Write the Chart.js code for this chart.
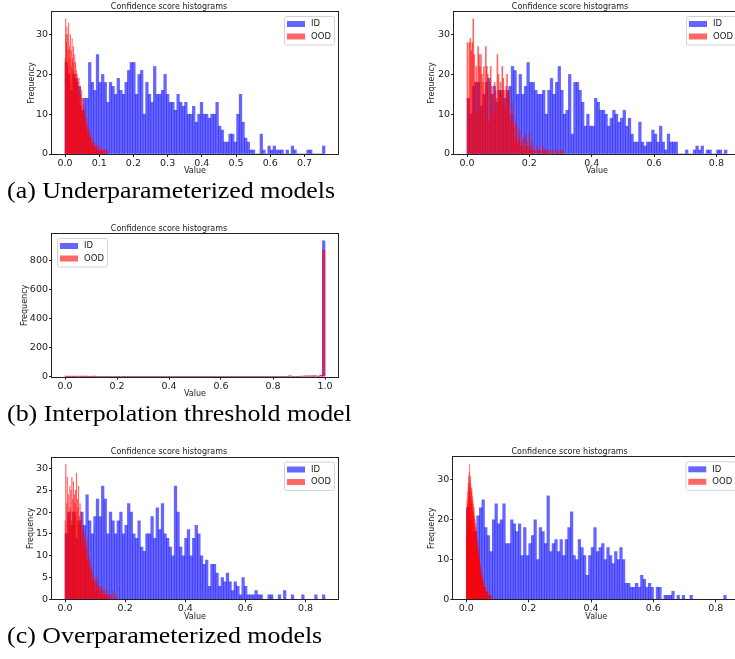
<!DOCTYPE html>
<html>
<head>
<meta charset="utf-8">
<script src="https://cdn.jsdelivr.net/npm/chart.js@4"></script>
<style>
  body { margin: 0; width: 735px; height: 659px; overflow: hidden; background: #fff; position: relative; }
  canvas { position: absolute; }
  .cap { position: absolute; left: 7px; font-family: "Liberation Serif", "Times New Roman", serif; font-size: 24px; line-height: 24px; white-space: nowrap; color: #000; transform: scaleX(1.08); transform-origin: left top; }
</style>
</head>
<body>
<canvas id="c1" width="345" height="180" style="left:0;top:0"></canvas>
<canvas id="c2" width="345" height="180" style="left:400px;top:0"></canvas>
<div class="cap" style="top:178px">(a) Underparameterized models</div>
<canvas id="c3" width="345" height="180" style="left:0;top:222px"></canvas>
<div class="cap" style="top:401px">(b) Interpolation threshold model</div>
<canvas id="c4" width="345" height="180" style="left:0;top:445px"></canvas>
<canvas id="c5" width="345" height="180" style="left:400px;top:445px"></canvas>
<div class="cap" style="top:623px">(c) Overparameterized models</div>
<script>
// ---- data (100 bins each) ----

// (a) left
const p1IdRange = [0, 0.76];
const p1IdCounts = [
  23, 20, 16, 20, 19, 17, 11, 14, 14, 23,
  18, 16, 25, 18, 20, 18, 13, 18, 17, 15,
  19, 16, 15, 18, 21, 23, 23, 15, 20, 21,
  10, 18, 15, 13, 22, 15, 15, 16, 20, 15,
  13, 13, 11, 15, 13, 12, 13, 10, 10, 12,
  8, 10, 13, 10, 10, 9, 10, 10, 13, 7,
  6, 3, 3, 5, 5, 3, 10, 15, 8, 4,
  3, 1, 1, 0, 0, 5, 1, 0, 2, 1,
  2, 1, 1, 1, 0, 1, 0, 2, 1, 0,
  0, 0, 0, 1, 1, 0, 0, 0, 0, 2
];
const p1OodRange = [0, 0.126];
const p1OodCounts = [
  24, 34, 30, 28, 32, 22, 30, 26, 33, 20,
  27, 24, 30, 18, 26, 22, 29, 24, 21, 27,
  23, 19, 25, 20, 23, 17, 21, 18, 20, 15,
  18, 14, 19, 16, 13, 17, 15, 12, 16, 14,
  11, 14, 10, 12, 9, 11, 10, 7, 8, 6,
  9, 5, 7, 6, 4, 5, 6, 3, 4, 5,
  3, 2, 4, 3, 2, 3, 1, 3, 2, 2,
  1, 2, 3, 1, 2, 1, 1, 2, 0, 1,
  1, 0, 1, 2, 1, 0, 1, 0, 1, 1,
  0, 1, 0, 0, 1, 0, 1, 0, 0, 1
];
const p1XTicks = [0, 0.1, 0.2, 0.3, 0.4, 0.5, 0.6, 0.7];
const p1XLabels = ['0.0', '0.1', '0.2', '0.3', '0.4', '0.5', '0.6', '0.7'];
const p1YTicks = [0, 10, 20, 30];

// (a) right
const p2IdRange = [0, 0.834];
const p2IdCounts = [
  14, 10, 17, 18, 18, 12, 15, 18, 19, 15,
  17, 13, 16, 16, 14, 16, 17, 22, 21, 15,
  20, 15, 17, 23, 18, 18, 16, 15, 15, 16,
  10, 16, 19, 15, 18, 22, 16, 10, 11, 20,
  5, 18, 18, 16, 13, 7, 10, 7, 7, 14,
  13, 11, 11, 10, 7, 9, 11, 10, 8, 9,
  11, 7, 9, 5, 3, 3, 8, 3, 2, 3,
  3, 6, 5, 3, 7, 3, 1, 5, 3, 3,
  3, 0, 0, 0, 1, 0, 0, 1, 2, 1,
  2, 0, 1, 1, 0, 0, 1, 1, 0, 1
];
const p2OodRange = [0, 0.31];
const p2OodCounts = [
  28, 14, 28, 29, 26, 28, 34, 25, 18, 22,
  10, 27, 25, 22, 25, 20, 18, 22, 15, 27,
  22, 20, 8, 18, 22, 17, 15, 10, 18, 16,
  14, 25, 20, 16, 18, 15, 22, 19, 16, 12,
  17, 20, 15, 16, 10, 8, 13, 10, 7, 4,
  8, 7, 3, 4, 6, 2, 3, 2, 4, 1,
  5, 3, 2, 1, 5, 2, 1, 3, 1, 0,
  1, 0, 2, 1, 1, 0, 1, 0, 2, 1,
  1, 0, 1, 0, 1, 0, 1, 0, 0, 1,
  0, 0, 1, 0, 1, 0, 0, 1, 0, 1
];
const p2XTicks = [0, 0.2, 0.4, 0.6, 0.8];
const p2XLabels = ['0.0', '0.2', '0.4', '0.6', '0.8'];
const p2YTicks = [0, 10, 20, 30];

// (b)
const p3IdRange = [0, 1];
const p3IdCounts = [
  0, 0, 0, 0, 0, 0, 0, 0, 0, 0,
  0, 0, 0, 0, 0, 0, 0, 0, 0, 0,
  0, 0, 0, 0, 0, 0, 0, 0, 0, 0,
  0, 0, 0, 0, 0, 0, 0, 0, 0, 0,
  0, 0, 0, 0, 0, 0, 0, 0, 0, 0,
  0, 0, 0, 0, 0, 0, 0, 0, 0, 0,
  0, 0, 0, 0, 0, 0, 0, 0, 0, 0,
  0, 0, 0, 0, 0, 0, 0, 0, 0, 0,
  0, 0, 0, 0, 0, 0, 0, 0, 0, 0,
  0, 0, 6, 4, 0, 0, 3, 0, 8, 939
];
const p3OodRange = [0, 1];
const p3OodCounts = [
  2, 1, 2, 1, 1, 2, 1, 1, 1, 0,
  1, 1, 0, 0, 0, 0, 0, 0, 0, 0,
  0, 0, 0, 0, 0, 0, 0, 0, 0, 0,
  0, 0, 0, 0, 0, 0, 0, 0, 0, 0,
  0, 0, 0, 0, 0, 0, 0, 0, 0, 0,
  0, 0, 0, 0, 0, 0, 0, 0, 0, 0,
  0, 0, 0, 0, 0, 0, 0, 0, 0, 0,
  0, 0, 0, 0, 0, 0, 0, 0, 0, 0,
  0, 0, 0, 0, 0, 0, 7, 0, 0, 0,
  5, 3, 0, 2, 7, 8, 6, 3, 12, 875
];
const p3XTicks = [0, 0.2, 0.4, 0.6, 0.8, 1.0];
const p3XLabels = ['0.0', '0.2', '0.4', '0.6', '0.8', '1.0'];
const p3YTicks = [0, 200, 400, 600, 800];

// (c) left
const p4IdRange = [0, 0.865];
const p4IdCounts = [
  15, 20, 17, 20, 14, 18, 20, 17, 24, 18,
  15, 19, 23, 19, 26, 23, 15, 20, 18, 15,
  18, 20, 15, 17, 22, 20, 15, 14, 18, 12,
  11, 15, 15, 19, 14, 21, 16, 22, 15, 14,
  12, 10, 26, 20, 12, 10, 14, 16, 10, 14,
  17, 15, 10, 8, 9, 3, 8, 8, 6, 3,
  5, 4, 6, 4, 2, 4, 3, 1, 5, 3,
  1, 1, 1, 2, 1, 1, 0, 0, 1, 1,
  0, 0, 1, 0, 2, 0, 0, 1, 0, 0,
  0, 1, 0, 0, 0, 0, 1, 0, 0, 1
];
const p4OodRange = [0, 0.17];
const p4OodCounts = [
  18, 31, 15, 22, 28, 19, 24, 16, 20, 26,
  21, 25, 18, 28, 20, 23, 27, 19, 24, 22,
  25, 20, 29, 18, 23, 21, 26, 17, 19, 22,
  18, 15, 20, 14, 17, 13, 16, 12, 15, 11,
  13, 10, 12, 9, 14, 8, 10, 7, 9, 6,
  8, 5, 7, 4, 6, 5, 3, 4, 5, 2,
  4, 3, 2, 5, 3, 2, 3, 1, 2, 3,
  1, 2, 3, 1, 2, 1, 0, 2, 1, 1,
  0, 1, 2, 0, 1, 1, 0, 1, 0, 0,
  1, 0, 0, 2, 0, 0, 1, 0, 0, 1
];
const p4XTicks = [0, 0.2, 0.4, 0.6, 0.8];
const p4XLabels = ['0.0', '0.2', '0.4', '0.6', '0.8'];
const p4YTicks = [0, 5, 10, 15, 20, 25, 30];

// (c) right
const p5IdRange = [0, 0.834];
const p5IdCounts = [
  23, 20, 17, 17, 21, 23, 25, 18, 16, 12,
  20, 24, 19, 20, 24, 14, 14, 20, 19, 17,
  19, 11, 18, 11, 14, 16, 20, 10, 18, 17,
  14, 26, 12, 14, 15, 12, 15, 11, 15, 18,
  22, 11, 10, 15, 13, 11, 6, 11, 13, 18,
  12, 13, 14, 10, 13, 11, 9, 12, 10, 13,
  10, 4, 4, 3, 3, 4, 3, 6, 5, 3,
  4, 3, 0, 3, 3, 0, 1, 1, 1, 2,
  0, 1, 0, 1, 0, 0, 1, 0, 0, 0,
  0, 0, 0, 0, 0, 0, 0, 0, 0, 1
];
const p5OodRange = [0, 0.08];
const p5OodCounts = [
  16, 22, 25, 19, 24, 27, 23, 29, 26, 31,
  28, 32, 27, 34, 30, 26, 29, 31, 25, 28,
  27, 24, 28, 22, 26, 23, 25, 21, 24, 22,
  20, 23, 19, 21, 18, 20, 17, 19, 16, 18,
  17, 14, 16, 13, 15, 12, 14, 13, 11, 12,
  10, 11, 9, 10, 8, 9, 7, 8, 6, 7,
  7, 5, 6, 5, 4, 6, 4, 5, 3, 4,
  3, 4, 2, 3, 3, 2, 3, 2, 1, 2,
  2, 1, 2, 1, 2, 1, 1, 2, 0, 1,
  1, 0, 1, 1, 0, 1, 0, 1, 0, 1
];
const p5XTicks = [0, 0.2, 0.4, 0.6, 0.8];
const p5XLabels = ['0.0', '0.2', '0.4', '0.6', '0.8'];
const p5YTicks = [0, 10, 20, 30];

// ---- drawing ----
Chart.defaults.font.family = '"DejaVu Sans", sans-serif';
Chart.defaults.color = '#1a1a1a';

const textColor = '#1a1a1a';
const tickFont = { size: 9.5 };
const labelFont = { size: 8 };

// bin counts -> points at bin centres
const toPoints = (range, counts) => {
  const w = (range[1] - range[0]) / counts.length;
  return counts.map((c, i) => ({ x: range[0] + (i + 0.5) * w, y: c }));
};

// matplotlib-like box around the axes
const framePlugin = {
  id: 'frame',
  afterDatasetsDraw(chart) {
    const { ctx, chartArea: a } = chart;
    ctx.save();
    ctx.strokeStyle = '#222';
    ctx.lineWidth = 1;
    ctx.strokeRect(Math.round(a.left) - 0.5, Math.round(a.top) - 0.5,
      Math.round(a.right) - Math.round(a.left) + 1, Math.round(a.bottom) - Math.round(a.top) + 1);
    ctx.restore();
  }
};

// legend box drawn inside the axes
const boxLegend = {
  id: 'boxLegend',
  afterDraw(chart, args, opts) {
    const { ctx, chartArea: a } = chart;
    const w = 50, h = 28.5;
    const x = opts.side === 'left' ? a.left + 5 : a.right - 4 - w;
    const y = a.top + 4;
    ctx.save();
    ctx.beginPath();
    ctx.roundRect(x + 0.5, y + 0.5, w, h, 2);
    ctx.fillStyle = 'rgba(255,255,255,0.8)';
    ctx.fill();
    ctx.strokeStyle = '#d3d3d3';
    ctx.lineWidth = 1;
    ctx.stroke();
    ctx.font = '8.5px "DejaVu Sans"';
    ctx.textBaseline = 'middle';
    chart.data.datasets.forEach((ds, i) => {
      const cy = y + 8 + i * 12.5;
      ctx.fillStyle = ds.backgroundColor;
      ctx.fillRect(x + 3, cy - 3, 18, 6);
      ctx.fillStyle = textColor;
      ctx.fillText(ds.label, x + 27, cy);
    });
    ctx.restore();
  }
};

const histogram = (canvasId, p) => {
  const lo = p.idRange[0], hi = p.idRange[1];
  const xMin = lo - 0.05 * (hi - lo);
  const xMax = hi + 0.05 * (hi - lo);
  const yMax = Math.max(...p.idCounts, ...p.oodCounts) * 1.05;

  new Chart(document.getElementById(canvasId), {
    type: 'bar',
    data: {
      datasets: [
        {
          label: 'ID',
          data: toPoints(p.idRange, p.idCounts),
          xAxisID: 'x',
          backgroundColor: 'rgba(0, 0, 255, 0.6)',
          borderWidth: 0,
          barPercentage: 1,
          categoryPercentage: 1,
          grouped: false,
          order: 2
        },
        {
          label: 'OOD',
          data: toPoints(p.oodRange, p.oodCounts),
          xAxisID: 'x2',
          backgroundColor: 'rgba(255, 0, 0, 0.6)',
          borderWidth: 0,
          barPercentage: 1,
          categoryPercentage: 1,
          grouped: false,
          order: 1
        }
      ]
    },
    options: {
      responsive: false,
      animation: false,
      devicePixelRatio: 1,
      layout: { padding: { left: 0, right: p.padRight, top: 0, bottom: 0 } },
      plugins: {
        legend: { display: false },
        tooltip: { enabled: false },
        title: {
          display: true,
          text: 'Confidence score histograms',
          font: { size: 8, weight: 'normal' },
          color: textColor,
          padding: { top: p.titleTop, bottom: 12 - p.titleTop - 9.6 + p.titleExtra }
        },
        boxLegend: { side: p.legendSide }
      },
      scales: {
        x: {
          type: 'linear',
          offset: false,
          min: xMin,
          max: xMax,
          afterBuildTicks: s => { s.ticks = p.xTicks.map(v => ({ value: v })); },
          afterFit: s => { s.height = p.xHeight; },
          ticks: {
            font: tickFont, color: textColor, padding: 1, maxRotation: 0, autoSkip: false,
            callback: (v, i) => p.xLabels[i]
          },
          grid: { offset: false, drawOnChartArea: false, tickLength: 3, color: '#222' },
          border: { display: false },
          title: { display: true, text: 'Value', font: labelFont, color: textColor, padding: { top: 0, bottom: p.valuePad } }
        },
        x2: { type: 'linear', display: false, offset: false, grid: { offset: false }, min: xMin, max: xMax },
        y: {
          min: 0,
          max: yMax,
          afterBuildTicks: s => { s.ticks = p.yTicks.map(v => ({ value: v })); },
          afterFit: s => { s.width = p.yWidth; },
          ticks: { font: tickFont, color: textColor, padding: 1, callback: v => String(v) },
          grid: { drawOnChartArea: false, tickLength: 3, color: '#222' },
          border: { display: false },
          title: { display: true, text: 'Frequency', font: labelFont, color: textColor, padding: { top: p.freqPad, bottom: 0 } }
        }
      }
    },
    plugins: [framePlugin, boxLegend]
  });
};

histogram('c1', {
  idRange: p1IdRange, idCounts: p1IdCounts, oodRange: p1OodRange, oodCounts: p1OodCounts,
  xTicks: p1XTicks, xLabels: p1XLabels, yTicks: p1YTicks, legendSide: 'right',
  padRight: 7, yWidth: 52, xHeight: 26, titleTop: 2.2, titleExtra: 0, valuePad: 4.2, freqPad: 27
});
histogram('c2', {
  idRange: p2IdRange, idCounts: p2IdCounts, oodRange: p2OodRange, oodCounts: p2OodCounts,
  xTicks: p2XTicks, xLabels: p2XLabels, yTicks: p2YTicks, legendSide: 'right',
  padRight: 5, yWidth: 54, xHeight: 26, titleTop: 2.2, titleExtra: 0, valuePad: 4.2, freqPad: 27.5
});
histogram('c3', {
  idRange: p3IdRange, idCounts: p3IdCounts, oodRange: p3OodRange, oodCounts: p3OodCounts,
  xTicks: p3XTicks, xLabels: p3XLabels, yTicks: p3YTicks, legendSide: 'left',
  padRight: 7, yWidth: 52, xHeight: 25.3, titleTop: 2.5, titleExtra: 0, valuePad: 3.2, freqPad: 20.2
});
histogram('c4', {
  idRange: p4IdRange, idCounts: p4IdCounts, oodRange: p4OodRange, oodCounts: p4OodCounts,
  xTicks: p4XTicks, xLabels: p4XLabels, yTicks: p4YTicks, legendSide: 'right',
  padRight: 7, yWidth: 52, xHeight: 25.7, titleTop: 2.5, titleExtra: 0.5, valuePad: 3.5, freqPad: 25.9
});
histogram('c5', {
  idRange: p5IdRange, idCounts: p5IdCounts, oodRange: p5OodRange, oodCounts: p5OodCounts,
  xTicks: p5XTicks, xLabels: p5XLabels, yTicks: p5YTicks, legendSide: 'right',
  padRight: 5.7, yWidth: 53.3, xHeight: 25.7, titleTop: 2.5, titleExtra: 0.3, valuePad: 3.5, freqPad: 27.5
});
</script>
</body>
</html>
